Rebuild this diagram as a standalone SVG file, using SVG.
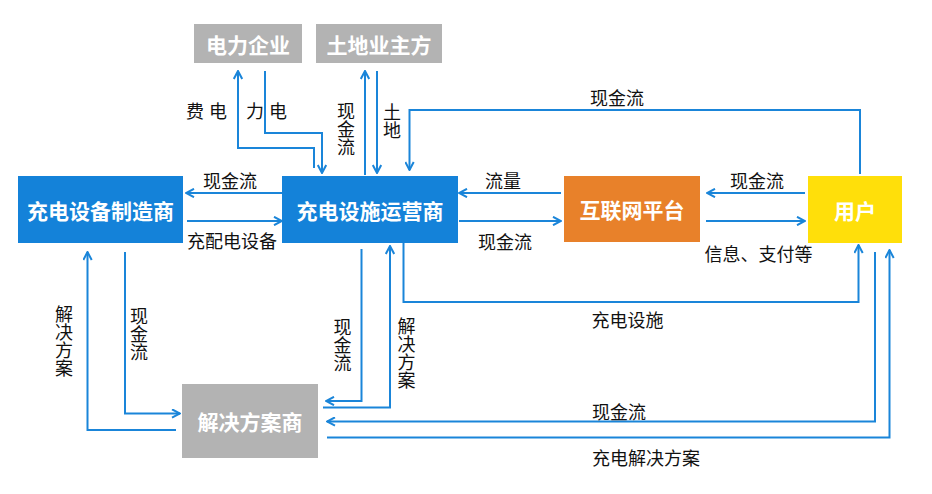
<svg xmlns="http://www.w3.org/2000/svg" width="932" height="494" viewBox="0 0 932 494">
<style>
.node-text{font-family:"Noto Sans CJK SC","Noto Sans",sans-serif;font-size:21px;font-weight:bold;fill:#ffffff;text-anchor:middle;dominant-baseline:central}
.lbl{font-family:"Noto Sans CJK SC","Noto Sans",sans-serif;font-size:18px;fill:#111111;text-anchor:middle;dominant-baseline:central}
.vlbl{font-family:"Noto Sans CJK SC","Noto Sans",sans-serif;font-size:18px;fill:#111111;text-anchor:middle;dominant-baseline:central;writing-mode:vertical-rl;text-orientation:upright}
.conn{fill:none;stroke:#1a85d9;stroke-width:2}
.blue{fill:#1482d9}
.gray{fill:#b3b3b3}
</style>
<defs>
<marker id="arr" viewBox="0 0 10 10" refX="9" refY="5" markerWidth="10" markerHeight="10" markerUnits="userSpaceOnUse" orient="auto">
<path d="M1,0.8 L9,5 L1,9.2" fill="none" stroke="#1a85d9" stroke-width="2"/>
</marker>
</defs>
<rect width="932" height="494" fill="#ffffff"/>
<g id="connectors">
<path class="conn" d="M314,168 V148 H238 V71" marker-end="url(#arr)"/>
<path class="conn" d="M265,71 V133 H322 V173" marker-end="url(#arr)"/>
<path class="conn" d="M365,175 V71" marker-end="url(#arr)"/>
<path class="conn" d="M377,71 V173" marker-end="url(#arr)"/>
<path class="conn" d="M860,174 V110 H409.5 V170" marker-end="url(#arr)"/>
<path class="conn" d="M282,193 H186" marker-end="url(#arr)"/>
<path class="conn" d="M187,221 H282" marker-end="url(#arr)"/>
<path class="conn" d="M561,193 H459" marker-end="url(#arr)"/>
<path class="conn" d="M459,221 H561" marker-end="url(#arr)"/>
<path class="conn" d="M805,193 H707" marker-end="url(#arr)"/>
<path class="conn" d="M706,221 H805" marker-end="url(#arr)"/>
<path class="conn" d="M176,430 H87.5 V252" marker-end="url(#arr)"/>
<path class="conn" d="M125,252 V413.5 H180" marker-end="url(#arr)"/>
<path class="conn" d="M361.5,249 V401 H326" marker-end="url(#arr)"/>
<path class="conn" d="M323,407.5 H390 V246" marker-end="url(#arr)"/>
<path class="conn" d="M403.5,243 V302 H858.5 V245" marker-end="url(#arr)"/>
<path class="conn" d="M875,252 V421.5 H327" marker-end="url(#arr)"/>
<path class="conn" d="M327,437.5 H889.5 V250" marker-end="url(#arr)"/>
</g>
<g id="labels">
<text class="lbl" x="209" y="110" letter-spacing="5">费电</text>
<text class="lbl" x="269" y="110" letter-spacing="5">力电</text>
<text class="vlbl" x="346" y="129">现金流</text>
<text class="vlbl" x="392" y="121">土地</text>
<text class="lbl" x="617" y="97">现金流</text>
<text class="lbl" x="230" y="180">现金流</text>
<text class="lbl" x="232" y="240">充配电设备</text>
<text class="lbl" x="503" y="180">流量</text>
<text class="lbl" x="505" y="240.5">现金流</text>
<text class="lbl" x="757" y="180">现金流</text>
<text class="lbl" x="758.5" y="252.5">信息、支付等</text>
<text class="vlbl" x="64" y="341">解决方案</text>
<text class="vlbl" x="139" y="334">现金流</text>
<text class="vlbl" x="342.5" y="345">现金流</text>
<text class="vlbl" x="406.5" y="353">解决方案</text>
<text class="lbl" x="627.5" y="318.5">充电设施</text>
<text class="lbl" x="619" y="411">现金流</text>
<text class="lbl" x="646" y="456.5">充电解决方案</text>
</g>
<g id="node-power">
<rect class="gray" x="194" y="24" width="108" height="39"/>
<text class="node-text" x="248" y="43.5">电力企业</text>
</g>
<g id="node-land">
<rect class="gray" x="316" y="24" width="126" height="39"/>
<text class="node-text" x="379" y="43.5">土地业主方</text>
</g>
<g id="node-manufacturer">
<rect class="blue" x="18" y="176" width="165" height="67"/>
<text class="node-text" x="100.5" y="209.5">充电设备制造商</text>
</g>
<g id="node-operator">
<rect class="blue" x="282" y="176" width="176" height="67"/>
<text class="node-text" x="370" y="209.5">充电设施运营商</text>
</g>
<g id="node-platform">
<rect x="564" y="176" width="136" height="66" fill="#e8812a"/>
<text class="node-text" x="632" y="209">互联网平台</text>
</g>
<g id="node-user">
<rect x="808" y="176" width="94" height="67" fill="#ffdf0a"/>
<text class="node-text" x="855" y="209.5">用户</text>
</g>
<g id="node-solution">
<rect class="gray" x="182" y="384" width="136" height="74"/>
<text class="node-text" x="250" y="421">解决方案商</text>
</g>
</svg>
